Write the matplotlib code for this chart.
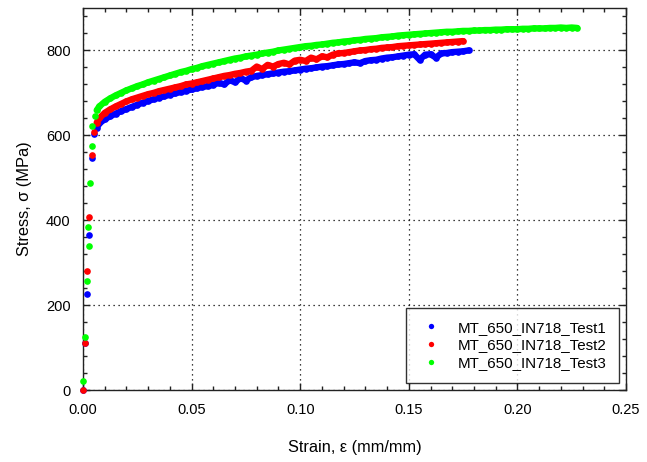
import numpy as np
import matplotlib
matplotlib.use("Agg")
import matplotlib.pyplot as plt
from matplotlib.ticker import MultipleLocator

plt.rcParams["font.family"] = ["Liberation Sans", "DejaVu Sans"]

# Elastic (loading) points for each test: strain (mm/mm), stress (MPa)
test1_elastic_strain = [0.0, 0.0008, 0.0020, 0.0026, 0.0040, 0.0052, 0.0063]
test1_elastic_stress = [0, 111, 227, 366, 547, 602, 618]
test2_elastic_strain = [0.0, 0.0008, 0.0020, 0.0028, 0.0040, 0.0052, 0.0063]
test2_elastic_stress = [0, 111, 280, 408, 553, 608, 630]
test3_elastic_strain = [0.0, 0.0009, 0.0017, 0.0023, 0.0026, 0.0032, 0.0040, 0.0043, 0.0055, 0.0063]
test3_elastic_stress = [22, 124, 256, 385, 340, 487, 575, 623, 645, 659]

# Plastic flow, sampled every 0.0025 strain starting at 0.0075
plastic_start, plastic_step = 0.0075, 0.0025
test1_plastic_stress = [
    628, 638, 645, 651, 657, 662, 667, 672, 677, 681, 685, 689, 692, 696, 699,
    702, 705, 708, 711, 714, 716, 719, 724, 720, 730, 725, 735, 729, 737, 740,
    742, 744, 746, 748, 750, 751, 753, 755, 757, 758, 760, 762, 763, 765, 767,
    768, 770, 772, 770, 775, 777, 778, 781, 783, 784, 786, 788, 790, 791, 778,
    790, 791, 783, 793, 794, 796, 797, 798, 800]
test2_plastic_stress = [
    640, 653, 661, 668, 674, 680, 685, 689, 693, 697, 700, 704, 707, 710, 713,
    716, 720, 722, 725, 728, 731, 734, 737, 740, 742, 745, 747, 750, 752, 762,
    756, 766, 762, 768, 771, 767, 776, 778, 775, 783, 779, 786, 784, 790, 793,
    794, 796, 798, 800, 801, 803, 804, 806, 807, 808, 810, 811, 812, 813, 814,
    815, 816, 817, 818, 819, 820, 821, 822]
test3_plastic_stress = [
    668, 679, 687, 694, 700, 706, 711, 716, 720, 725, 729, 733, 737, 741, 745,
    749, 752, 756, 759, 763, 766, 769, 772, 775, 778, 781, 783, 786, 788, 790,
    793, 795, 797, 800, 802, 804, 806, 808, 810, 811, 813, 814, 816, 818, 819,
    821, 822, 824, 825, 827, 828, 829, 831, 832, 833, 835, 836, 837, 838, 839,
    840, 841, 842, 843, 844, 844, 845, 846, 846, 847, 847, 848, 848, 849, 849,
    850, 850, 850, 851, 851, 852, 852, 852, 853, 853, 854, 853, 854, 853]

labels = ["MT_650_IN718_Test1", "MT_650_IN718_Test2", "MT_650_IN718_Test3"]
colors = ["#0000ff", "#ff0000", "#00ff00"]

x_ticks = [0.00, 0.05, 0.10, 0.15, 0.20, 0.25]
y_ticks = [0, 200, 400, 600, 800]


def plastic_strain(stress):
    return plastic_start + plastic_step * np.arange(len(stress))


series = [
    (test1_elastic_strain, test1_elastic_stress, test1_plastic_stress),
    (test2_elastic_strain, test2_elastic_stress, test2_plastic_stress),
    (test3_elastic_strain, test3_elastic_stress, test3_plastic_stress),
]

fig = plt.figure(figsize=(6.47, 4.62), dpi=100)
ax = fig.add_axes([0.1283, 0.1558, 0.8392, 0.8269])

for (es, ess, ps), lab, col in zip(series, labels, colors):
    # densely logged plastic data reads as a solid band of dots
    px = plastic_strain(ps)
    ax.plot(np.concatenate([[es[-1]], px]), np.concatenate([[ess[-1]], ps]),
            linestyle="-", linewidth=4.6, solid_capstyle="round",
            color=col, zorder=3)
    x = np.concatenate([es, px])
    y = np.concatenate([ess, ps])
    ax.plot(x, y, linestyle="none", marker="o", markersize=4.8,
            markeredgewidth=0, color=col, label=lab, clip_on=False, zorder=3)

ax.set_xlim(0, 0.25)
ax.set_ylim(0, 900)
ax.set_xticks(x_ticks)
ax.set_xticklabels([f"{v:.2f}" for v in x_ticks])
ax.set_yticks(y_ticks)
ax.xaxis.set_minor_locator(MultipleLocator(0.01))
ax.yaxis.set_minor_locator(MultipleLocator(40))

ax.tick_params(which="both", direction="in", top=True, right=True,
               colors="#222222", labelcolor="black", labelsize=10.5)
ax.tick_params(which="major", length=5, width=1, pad=9)
ax.tick_params(which="minor", length=3, width=1)

ax.grid(True, which="major", linestyle=(0, (1, 3)), color="black", linewidth=0.9)
for sp in ax.spines.values():
    sp.set_color("#222222")
    sp.set_linewidth(1.0)

ax.set_xlabel("Strain, ε (mm/mm)", fontsize=11.8, labelpad=17)
ax.set_ylabel("Stress, σ (MPa)", fontsize=11.8, labelpad=10)

leg = ax.legend(loc="lower right", bbox_to_anchor=(0.987, 0.018),
                fontsize=10.9, frameon=True, fancybox=False, shadow=False,
                markerscale=0.8, handlelength=1.6, handletextpad=0.95,
                borderpad=0.85, labelspacing=0.25, borderaxespad=0)
leg.get_frame().set_edgecolor("black")
leg.get_frame().set_linewidth(1.0)

fig.savefig("out.png", dpi=100)
